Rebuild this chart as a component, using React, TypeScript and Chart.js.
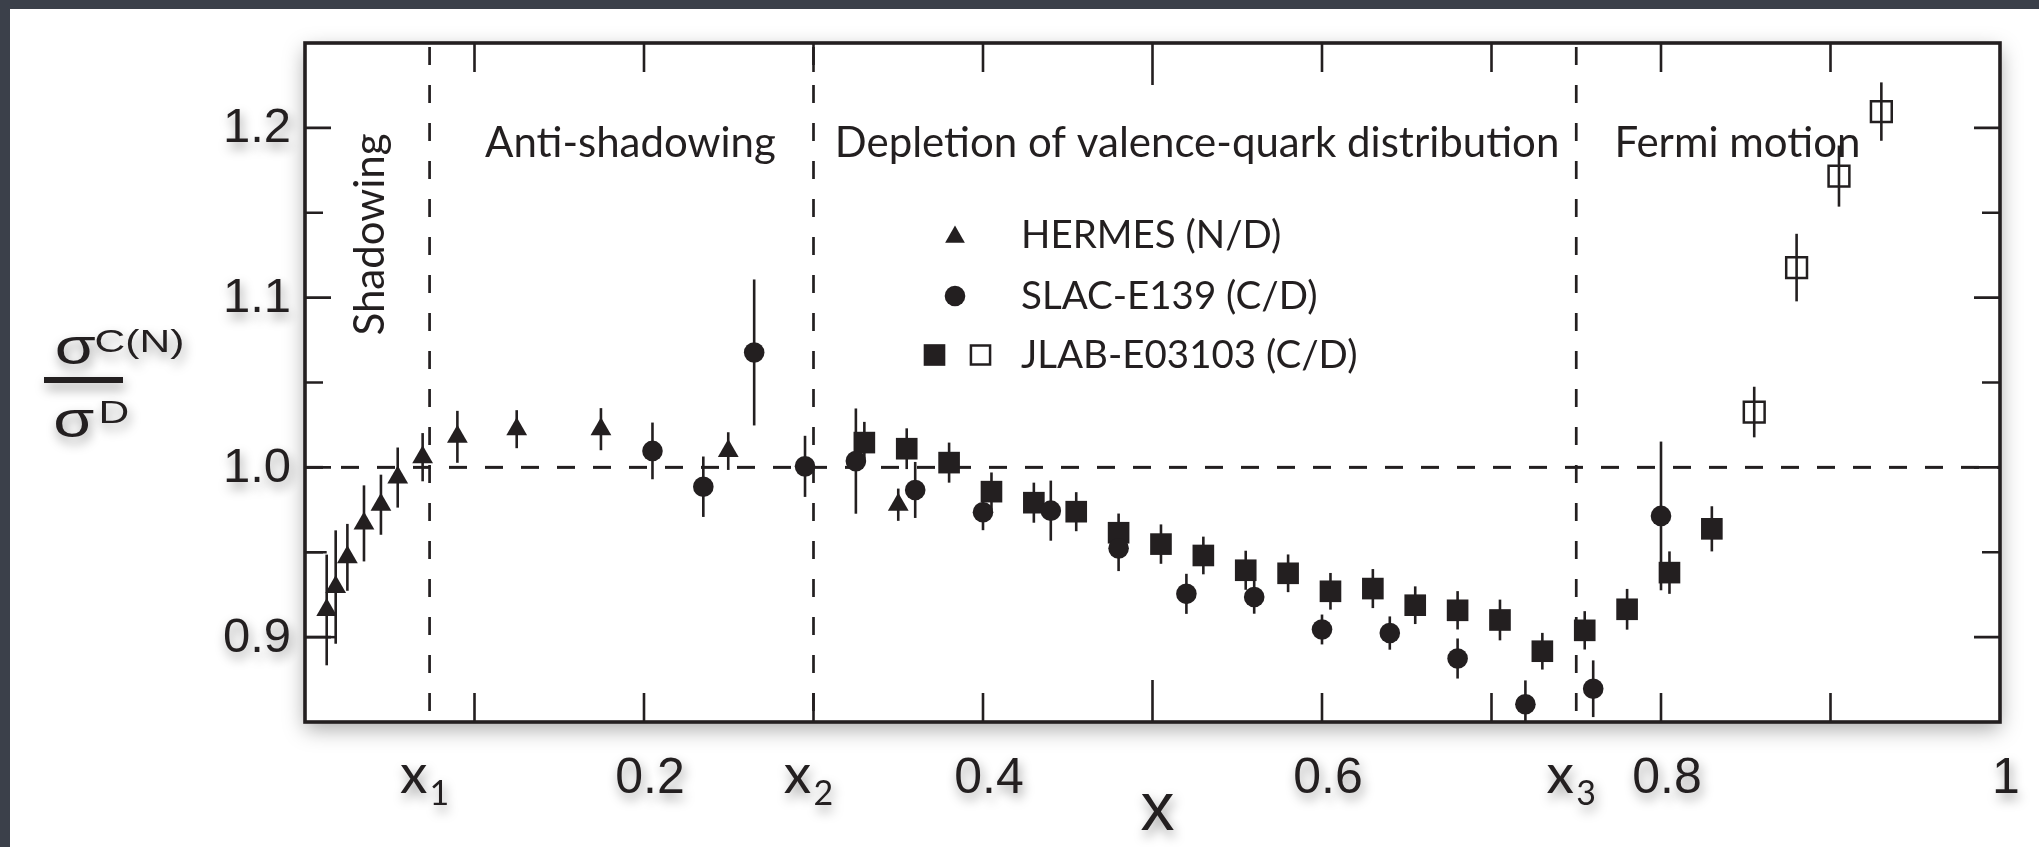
import React, { useEffect, useRef } from 'react';
import { Chart, registerables } from 'chart.js';

Chart.register(...registerables);

// ---------------- data ----------------
const hermesX = [0.0128, 0.0181, 0.025, 0.0348, 0.0448, 0.0547, 0.0694, 0.0899, 0.1249, 0.1746, 0.2497, 0.35];
const hermesY = [0.916, 0.9295, 0.947, 0.967, 0.978, 0.994, 1.006, 1.018, 1.0225, 1.0225, 1.0096, 0.978];
const hermesErr = [0.0326, 0.0334, 0.0197, 0.0224, 0.0177, 0.0177, 0.0142, 0.0153, 0.0112, 0.0124, 0.0111, 0.0095];

const slacX = [0.205, 0.235, 0.265, 0.295, 0.325, 0.36, 0.4, 0.44, 0.48, 0.52, 0.56, 0.6, 0.64, 0.68, 0.72, 0.76, 0.8];
const slacY = [1.0097, 0.9886, 1.0677, 1.0006, 1.0037, 0.9867, 0.9736, 0.9745, 0.9523, 0.9255, 0.9236, 0.9045, 0.9024, 0.8874, 0.8605, 0.8696, 0.9714];
const slacErr = [0.0167, 0.0178, 0.043, 0.018, 0.031, 0.0165, 0.0106, 0.0177, 0.0134, 0.0118, 0.0098, 0.0088, 0.0098, 0.0118, 0.014, 0.0167, 0.0438];

const jlabX = [0.33, 0.355, 0.38, 0.405, 0.43, 0.455, 0.48, 0.505, 0.53, 0.555, 0.58, 0.605, 0.63, 0.655, 0.68, 0.705, 0.73, 0.755, 0.78, 0.805, 0.83];
const jlabY = [1.0146, 1.011, 1.0028, 0.9857, 0.9792, 0.9739, 0.9615, 0.9548, 0.9481, 0.9394, 0.9376, 0.927, 0.9286, 0.9188, 0.9158, 0.9101, 0.8917, 0.904, 0.9164, 0.938, 0.9638];
const jlabErr = [0.0122, 0.012, 0.0118, 0.0113, 0.0118, 0.0115, 0.0113, 0.0116, 0.0111, 0.0115, 0.0111, 0.0108, 0.0115, 0.0111, 0.0113, 0.012, 0.0108, 0.0113, 0.012, 0.0125, 0.0133];

const jlabOpenX = [0.855, 0.88, 0.905, 0.93];
const jlabOpenY = [1.0326, 1.1177, 1.1716, 1.2096];
const jlabOpenErr = [0.0149, 0.0199, 0.018, 0.0172];

// normalisation bracket at the far left
const normUpperX = [0, 0.0128];
const normUpperY = [0.95, 0.95];
const normLowerX = [0, 0.0187];
const normLowerY = [0.9, 0.9];

// axes / ticks
const X_MIN = 0, X_MAX = 1, Y_MIN = 0.85, Y_MAX = 1.25;
const xTickValues = [0.2, 0.4, 0.6, 0.8, 1];
const xTickLabels = ['0.2', '0.4', '0.6', '0.8', '1'];
const yTickValues = [0.9, 1.0, 1.1, 1.2];
const yTickLabels = ['0.9', '1.0', '1.1', '1.2'];
const xInnerTicks = [0.1, 0.2, 0.3, 0.4, 0.5, 0.6, 0.7, 0.8, 0.9];
const xLongInnerTicks = [0.5];
const yInnerTicks = [0.9, 0.95, 1.0, 1.05, 1.1, 1.15, 1.2];
const yMajorInnerTicks = [0.9, 1.0, 1.1, 1.2];
const unityLine = 1.0;
const boundaryX = [0.0735, 0.3, 0.75];
const boundarySubscripts = ['1', '2', '3'];
const regionLabels = ['Shadowing', 'Anti-shadowing', 'Depletion of valence-quark distribution', 'Fermi motion'];
const legendLabels = ['HERMES (N/D)', 'SLAC-E139 (C/D)', 'JLAB-E03103 (C/D)'];
const xAxisTitle = 'x';

// ---------------- layout / style ----------------
const W = 2039, H = 847;
const INK = '#231f20';
const REGION_POS = [
  { x: 0.0466, y: 1.1372, rotate: true },
  { x: 0.192, y: 1.1826, rotate: false },
  { x: 0.5263, y: 1.1826, rotate: false },
  { x: 0.8451, y: 1.1826, rotate: false },
];
const LEGEND = { textLeft: 1021, baselines: [248, 309, 368], markerX: 955, squareX: [934.5, 980.5], markerLift: 13 };
const R_TRI = 12, R_CIRC = 10.3, R_SQ = 15.3, R_OSQ = 14.7;

const pts = (xs: number[], ys: number[]) => xs.map((x, i) => ({ x, y: ys[i] }));

function drawMarker(ctx: CanvasRenderingContext2D, style: string, x: number, y: number, r: number, filled: boolean) {
  ctx.beginPath();
  if (style === 'triangle') {
    ctx.moveTo(x, y - r);
    ctx.lineTo(x + 0.866 * r, y + 0.5 * r);
    ctx.lineTo(x - 0.866 * r, y + 0.5 * r);
    ctx.closePath();
  } else if (style === 'circle') {
    ctx.arc(x, y, r, 0, Math.PI * 2);
  } else {
    const s = r * Math.SQRT1_2;
    ctx.rect(x - s, y - s, 2 * s, 2 * s);
  }
  if (filled) {
    ctx.fillStyle = INK;
    ctx.fill();
  } else {
    ctx.strokeStyle = INK;
    ctx.lineWidth = 2.5;
    ctx.stroke();
  }
}

function outerShadow(ctx: CanvasRenderingContext2D) {
  ctx.shadowColor = 'rgba(0,0,0,0.4)';
  ctx.shadowBlur = 12;
  ctx.shadowOffsetX = 2;
  ctx.shadowOffsetY = 6;
}

const figurePlugin = {
  id: 'figure',
  beforeDraw(chart: any) {
    const { ctx, chartArea: a } = chart;
    const xs = chart.scales.x, ys = chart.scales.y;
    // white plot panel with drop shadow
    ctx.save();
    ctx.shadowColor = 'rgba(0,0,0,0.35)';
    ctx.shadowBlur = 20;
    ctx.shadowOffsetY = 7;
    ctx.fillStyle = '#fff';
    ctx.fillRect(a.left, a.top, a.right - a.left, a.bottom - a.top);
    ctx.restore();

    // dashed reference lines
    ctx.save();
    ctx.strokeStyle = INK;
    ctx.lineWidth = 3;
    ctx.setLineDash([18, 18]);
    const y1 = ys.getPixelForValue(unityLine);
    ctx.beginPath();
    ctx.moveTo(a.left, y1);
    ctx.lineTo(a.right, y1);
    ctx.stroke();
    ctx.lineWidth = 2.7;
    ctx.setLineDash([18, 20]);
    boundaryX.forEach((v) => {
      const px = xs.getPixelForValue(v);
      ctx.beginPath();
      ctx.moveTo(px, a.top + 4);
      ctx.lineTo(px, a.bottom);
      ctx.stroke();
    });
    ctx.restore();

    // region labels
    ctx.save();
    ctx.fillStyle = INK;
    ctx.font = '42px Lato';
    ctx.textBaseline = 'alphabetic';
    regionLabels.forEach((t, i) => {
      const p = REGION_POS[i];
      const px = xs.getPixelForValue(p.x), py = ys.getPixelForValue(p.y);
      if (p.rotate) {
        ctx.save();
        ctx.translate(px, py);
        ctx.rotate(-Math.PI / 2);
        ctx.textAlign = 'center';
        ctx.fillText(t, 0, 0);
        ctx.restore();
      } else {
        ctx.textAlign = 'center';
        ctx.fillText(t, px, py);
      }
    });
    ctx.restore();

    // legend
    ctx.save();
    ctx.font = '38.5px Lato';
    ctx.fillStyle = INK;
    ctx.textAlign = 'left';
    ctx.textBaseline = 'alphabetic';
    legendLabels.forEach((t, i) => {
      const b = LEGEND.baselines[i];
      const my = b - LEGEND.markerLift;
      if (i === 0) drawMarker(ctx, 'triangle', LEGEND.markerX, my + 2, R_TRI * 0.95, true);
      if (i === 1) drawMarker(ctx, 'circle', LEGEND.markerX, my, R_CIRC, true);
      if (i === 2) {
        drawMarker(ctx, 'rect', LEGEND.squareX[0], my, R_SQ, true);
        drawMarker(ctx, 'rect', LEGEND.squareX[1], my, R_OSQ * 0.92, false);
      }
      ctx.fillStyle = INK;
      ctx.fillText(t, LEGEND.textLeft, b);
    });
    ctx.restore();
  },
  beforeDatasetsDraw(chart: any) {
    const { ctx, chartArea: a } = chart;
    const ys = chart.scales.y;
    ctx.save();
    ctx.beginPath();
    ctx.rect(a.left, a.top, a.right - a.left, a.bottom - a.top);
    ctx.clip();
    ctx.strokeStyle = INK;
    ctx.lineWidth = 2.6;
    chart.data.datasets.forEach((ds: any, i: number) => {
      if (!ds.errors) return;
      const meta = chart.getDatasetMeta(i);
      meta.data.forEach((el: any, j: number) => {
        const v = ds.data[j].y, e = ds.errors[j];
        ctx.beginPath();
        ctx.moveTo(el.x, ys.getPixelForValue(v - e));
        ctx.lineTo(el.x, ys.getPixelForValue(v + e));
        ctx.stroke();
      });
    });
    ctx.restore();
  },
  afterDraw(chart: any) {
    const { ctx, chartArea: a } = chart;
    const xs = chart.scales.x, ys = chart.scales.y;
    ctx.save();
    ctx.strokeStyle = INK;
    // inward ticks
    ctx.lineWidth = 2.6;
    xInnerTicks.forEach((v) => {
      const px = xs.getPixelForValue(v);
      const len = xLongInnerTicks.includes(v) ? 42 : 29;
      ctx.beginPath();
      ctx.moveTo(px, a.bottom);
      ctx.lineTo(px, a.bottom - len);
      ctx.moveTo(px, a.top);
      ctx.lineTo(px, a.top + len);
      ctx.stroke();
    });
    yInnerTicks.forEach((v) => {
      const py = ys.getPixelForValue(v);
      const len = yMajorInnerTicks.some((m) => Math.abs(m - v) < 1e-9) ? 26 : 18;
      ctx.beginPath();
      ctx.moveTo(a.left, py);
      ctx.lineTo(a.left + len, py);
      ctx.moveTo(a.right, py);
      ctx.lineTo(a.right - len, py);
      ctx.stroke();
    });
    // frame
    ctx.lineWidth = 3.6;
    ctx.strokeRect(a.left, a.top, a.right - a.left, a.bottom - a.top);
    ctx.restore();

    // tick labels and titles (with soft shadow)
    ctx.save();
    outerShadow(ctx);
    ctx.fillStyle = INK;
    ctx.font = '49px "Liberation Sans"';
    ctx.textAlign = 'right';
    ctx.textBaseline = 'middle';
    yTickValues.forEach((v, i) => {
      ctx.fillText(yTickLabels[i], a.left - 14, ys.getPixelForValue(v) + 1);
    });
    ctx.font = '50px "Liberation Sans"';
    ctx.textAlign = 'center';
    ctx.textBaseline = 'alphabetic';
    xTickValues.forEach((v, i) => {
      ctx.fillText(xTickLabels[i], xs.getPixelForValue(v) + 6, a.bottom + 71);
    });
    // region boundary labels x_1, x_2, x_3
    boundaryX.forEach((v, i) => {
      const px = xs.getPixelForValue(v);
      ctx.font = '55px Lato';
      ctx.textAlign = 'center';
      ctx.fillText('x', px - 16, a.bottom + 71);
      ctx.font = '34px Lato';
      ctx.textAlign = 'left';
      ctx.fillText(boundarySubscripts[i], px + 0, a.bottom + 83);
    });
    // x axis title
    ctx.font = '68px "Liberation Sans"';
    ctx.textAlign = 'center';
    ctx.fillText(xAxisTitle, xs.getPixelForValue(0.5) + 5, a.bottom + 108);

    // y axis title: sigma^C(N) / sigma^D
    ctx.save();
    ctx.translate(44, 0);
    ctx.scale(1.33, 1);
    ctx.textAlign = 'left';
    ctx.font = '50px "Liberation Sans"';
    ctx.fillText('\u03C3', 8, 364);
    ctx.fillText('\u03C3', 7, 437);
    ctx.font = '32px "Liberation Sans"';
    ctx.fillText('C(N)', 38, 352);
    ctx.fillText('D', 41, 423);
    ctx.restore();
    ctx.fillRect(44, 377, 79, 6);
    ctx.restore();
  },
};

export default function App() {
  const ref = useRef<HTMLCanvasElement>(null);
  useEffect(() => {
    if (!ref.current) return;
    const chart = new Chart(ref.current, {
      type: 'scatter',
      data: {
        datasets: [
          {
            label: 'HERMES (N/D)',
            data: pts(hermesX, hermesY),
            errors: hermesErr,
            pointStyle: 'triangle',
            pointRadius: R_TRI,
            backgroundColor: INK,
            borderColor: INK,
            borderWidth: 0,
          } as any,
          {
            label: 'SLAC-E139 (C/D)',
            data: pts(slacX, slacY),
            errors: slacErr,
            pointStyle: 'circle',
            pointRadius: R_CIRC,
            backgroundColor: INK,
            borderColor: INK,
            borderWidth: 0,
          } as any,
          {
            label: 'JLAB-E03103 (C/D)',
            data: pts(jlabX, jlabY),
            errors: jlabErr,
            pointStyle: 'rect',
            pointRadius: R_SQ,
            backgroundColor: INK,
            borderColor: INK,
            borderWidth: 0,
          } as any,
          {
            label: 'JLAB-E03103 (C/D) open',
            data: pts(jlabOpenX, jlabOpenY),
            errors: jlabOpenErr,
            pointStyle: 'rect',
            pointRadius: R_OSQ,
            backgroundColor: 'rgba(0,0,0,0)',
            borderColor: INK,
            borderWidth: 2.5,
          } as any,
          {
            label: 'norm upper',
            data: pts(normUpperX, normUpperY),
            showLine: true,
            pointRadius: 0,
            borderColor: INK,
            borderWidth: 2.5,
          } as any,
          {
            label: 'norm lower',
            data: pts(normLowerX, normLowerY),
            showLine: true,
            pointRadius: 0,
            borderColor: INK,
            borderWidth: 2.5,
          } as any,
        ],
      },
      options: {
        animation: false,
        responsive: false,
        devicePixelRatio: 1,
        events: [],
        layout: { padding: { left: 305, right: W - 2000, top: 43, bottom: H - 722 } },
        plugins: { legend: { display: false }, tooltip: { enabled: false } },
        scales: {
          x: { type: 'linear', min: X_MIN, max: X_MAX, display: false },
          y: { type: 'linear', min: Y_MIN, max: Y_MAX, display: false },
        },
      },
      plugins: [figurePlugin],
    } as any);
    return () => chart.destroy();
  }, []);

  return (
    <div style={{ position: 'fixed', left: 0, top: 0, width: W, height: H, background: '#3b404a', overflow: 'hidden' }}>
      <div style={{ position: 'absolute', left: 10, top: 9, right: 0, bottom: 0, background: '#ffffff' }} />
      <canvas ref={ref} width={W} height={H} style={{ position: 'absolute', left: 0, top: 0, width: W, height: H, display: 'block' }} />
    </div>
  );
}
